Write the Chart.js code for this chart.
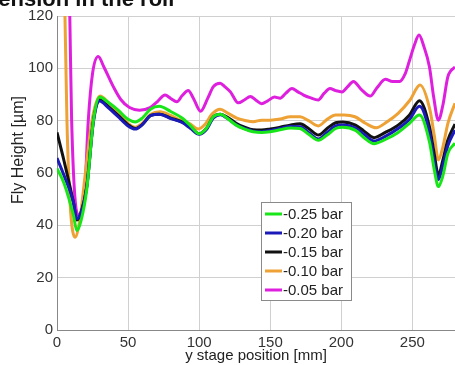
<!DOCTYPE html>
<html>
<head>
<meta charset="utf-8">
<script src="https://cdn.jsdelivr.net/npm/chart.js@4"></script>
<style>
  html, body { margin: 0; padding: 0; background: #fff; overflow: hidden; }
  #wrap { position: relative; width: 455px; height: 365px; overflow: hidden; }
  #cut { position: absolute; top: -11px; left: -9px; font: bold 22px 'Liberation Sans', Arial, sans-serif; line-height: 20px; color: #111; white-space: nowrap; }
</style>
</head>
<body>
<div id="wrap">
  <canvas id="chart" width="455" height="365"></canvas>
  <div id="cut">tension in the roll</div>
</div>
<script>
// y stage position [mm] for the three lower curves
const positions = [0, 5, 11.5, 14, 17, 21, 25.6, 30, 36, 43, 50, 55, 60, 66, 72, 80, 88, 94, 100, 105, 110, 115, 120, 126, 132, 138, 144, 150, 157, 164, 171, 177, 184, 190, 196, 201, 210, 216, 223, 231, 240, 248, 255, 262, 265.5, 268.3, 271.5, 275, 280];

const bar025 = [61.8, 56, 44, 38, 42, 54, 80, 89, 87, 84, 80.5, 79.5, 81, 84.5, 85.5, 83.5, 81, 78, 75, 77, 81.5, 82.5, 80.8, 78.3, 76.8, 75.8, 75.5, 75.8, 76.5, 77.2, 77, 74.8, 72.5, 74.5, 77, 77.5, 76.3, 73.5, 71.2, 72.8, 75.5, 79, 82.2, 72, 61, 54.8, 59, 67.5, 71.4];
const bar020 = [65.7, 59, 49, 42.5, 45, 55, 79.5, 87.5, 85, 81.5, 78, 76.8, 78.5, 82, 82.5, 80.8, 79.3, 77, 74.8, 76.5, 81, 82.3, 80.8, 78.5, 77, 76, 75.8, 76.2, 77, 77.8, 77.7, 75.5, 73, 75.5, 78, 78.3, 77.2, 74.8, 72.2, 74, 77, 80.5, 85.5, 75.5, 64, 57.5, 63, 70.5, 76.4];
const bar015 = [75.5, 64.5, 49, 42, 45, 55, 80, 88, 85.5, 82, 78.5, 77, 78.5, 82, 82.5, 81, 79.5, 77.5, 75, 77, 81.5, 82.5, 81.3, 79, 77.5, 76.5, 76.4, 76.8, 77.5, 78.3, 78.8, 77, 74.5, 77, 79.2, 79.5, 78.3, 76, 73.5, 75.5, 78.3, 82.2, 87.6, 77.7, 67, 59.2, 65, 72.6, 78.7];

const orangeX = [4.5, 5.6, 7, 9.2, 12.7, 16, 20, 24.6, 30.3, 36, 43, 50, 55, 60, 66, 72.5, 80, 86.6, 93, 99.3, 104, 109, 114.8, 120.4, 126.5, 133, 138, 144, 150, 157, 164, 171, 177, 183.8, 190, 196, 202, 209.6, 217, 224.6, 232, 240, 248.4, 255.4, 262.4, 265.5, 268.3, 271.5, 275, 280];
const bar010 = [160, 120, 80, 48.5, 35.4, 42, 60, 80, 89.4, 87, 83, 79, 77.5, 79, 82.5, 83.4, 82, 80.2, 79, 76.8, 78.5, 82.5, 84.4, 82.8, 81, 80, 79.6, 80.2, 80.2, 80.6, 81.5, 81.5, 80, 78, 80.5, 82.2, 82.2, 81.5, 79, 77.3, 79.5, 82.8, 87.9, 93.6, 84, 74, 65, 70, 79, 86.7];

const magentaX = [7.5, 9, 10.3, 14.8, 19.7, 22, 25, 29, 33, 39.6, 45, 51, 58, 65.5, 71, 76, 80, 84.3, 88, 92.3, 96, 101, 106, 110, 114.8, 118, 122, 127.5, 132, 136, 140, 144, 148, 153, 157, 161, 165.3, 169.5, 173.5, 178, 183.8, 188, 192, 196, 200.5, 204.5, 208.5, 214, 220.4, 225, 231, 236, 241, 245, 248, 251.5, 254.7, 258, 262, 265, 268.3, 271.5, 275, 280];
const bar005 = [160, 120, 80, 44, 55, 80, 98, 104.5, 100.5, 93, 88, 85, 84, 85, 87.5, 89.8, 88.5, 87.2, 89.5, 91.5, 88.5, 83.6, 88.5, 93, 94.3, 93, 91, 86.8, 88, 89.2, 87.8, 86.5, 87.5, 89, 88.6, 90.5, 92.3, 91, 89.8, 88.8, 87.9, 90.5, 92.3, 91.5, 91, 93, 95, 92, 89.4, 92.5, 95.8, 95, 95, 98, 103, 109, 112.7, 108.5, 100.6, 89, 80.2, 86, 96.8, 100.6];

const seriesNames = ['-0.25 bar', '-0.20 bar', '-0.15 bar', '-0.10 bar', '-0.05 bar'];
const seriesColors = ['#19e619', '#1a1ab8', '#111111', '#eea134', '#de1fde'];
const xTicks = [0, 50, 100, 150, 200, 250];
const yTicks = [0, 20, 40, 60, 80, 100, 120];
const yTitle = 'Fly Height [µm]';

const FONT = "'Liberation Sans', Arial, sans-serif";

function pts(xs, ys) {
  return xs.map((x, i) => ({ x: x, y: ys[i] }));
}

const allX = [positions, positions, positions, orangeX, magentaX];
const allY = [bar025, bar020, bar015, bar010, bar005];

const datasets = seriesNames.map((name, i) => ({
  label: name,
  data: pts(allX[i], allY[i]),
  borderColor: seriesColors[i],
  backgroundColor: seriesColors[i],
  borderWidth: 3,
  pointRadius: 0,
  cubicInterpolationMode: 'monotone',
  fill: false
}));

// legend box inside the plot + y title (sits higher than the axis centre)
const boxLegend = {
  id: 'boxLegend',
  afterDraw(chart) {
    const c = chart.ctx;
    const left = 261, top = 202, w = 90, h = 98;
    c.save();
    c.fillStyle = '#fff';
    c.fillRect(left, top, w, h);
    c.strokeStyle = '#8a8a8a';
    c.lineWidth = 1;
    c.strokeRect(left + 0.5, top + 0.5, w, h);
    c.font = '15px ' + FONT;
    c.textBaseline = 'middle';
    seriesNames.forEach((name, i) => {
      const y = top + 12 + i * 19;
      c.strokeStyle = seriesColors[i];
      c.lineWidth = 3;
      c.beginPath();
      c.moveTo(265, y);
      c.lineTo(282, y);
      c.stroke();
      c.fillStyle = '#222';
      c.fillText(name, 283, y + 1);
    });
    c.translate(19, 150);
    c.rotate(-Math.PI / 2);
    c.textAlign = 'center';
    c.font = '16px ' + FONT;
    c.fillStyle = '#222';
    c.fillText(yTitle, 0, 0);
    c.restore();
  }
};

new Chart(document.getElementById('chart').getContext('2d'), {
  type: 'line',
  data: { datasets: datasets },
  options: {
    responsive: false,
    animation: false,
    layout: { padding: { top: 16, right: 0, left: 0, bottom: 0 } },
    plugins: { legend: { display: false }, tooltip: { enabled: false } },
    scales: {
      x: {
        type: 'linear',
        min: 0,
        max: 280,
        afterBuildTicks: s => { s.ticks = xTicks.map(v => ({ value: v })); },
        afterFit: s => { s.height = 35; s.paddingRight = 0; s.paddingLeft = 0; },
        grid: { color: '#d0d0d0', borderDash: [2, 2], drawTicks: false },
        border: { display: true, color: '#888', width: 1 },
        ticks: { color: '#333', font: { family: FONT, size: 15 }, padding: 4, maxRotation: 0 },
        title: { display: true, text: 'y stage position [mm]', color: '#222', font: { family: FONT, size: 15 }, padding: { top: 0, bottom: 0 } }
      },
      y: {
        min: 0,
        max: 120,
        afterBuildTicks: s => { s.ticks = yTicks.map(v => ({ value: v })); },
        afterFit: s => { s.width = 57; },
        grid: { color: '#d0d0d0', borderDash: [2, 2], drawTicks: false },
        border: { display: true, color: '#888', width: 1 },
        ticks: { color: '#333', font: { family: FONT, size: 15 }, padding: 4 }
      }
    }
  },
  plugins: [boxLegend]
});
</script>
</body>
</html>
